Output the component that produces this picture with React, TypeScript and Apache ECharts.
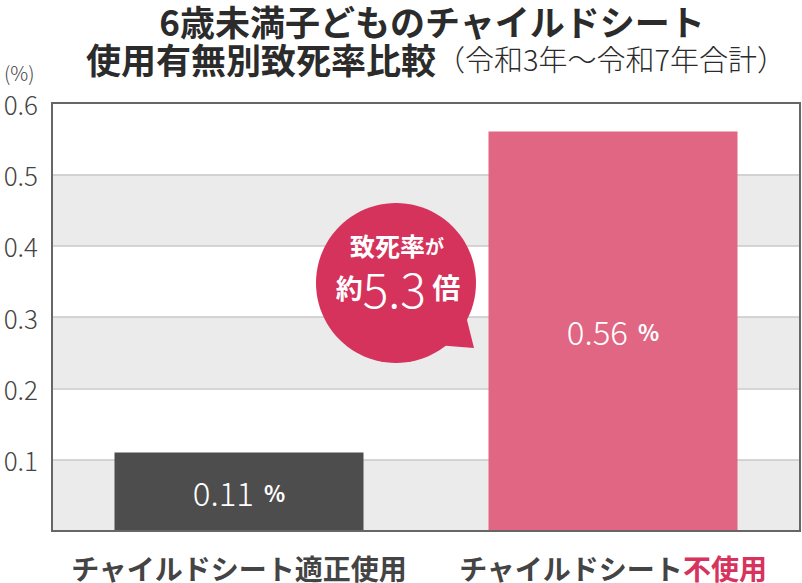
import React, { useRef, useEffect } from 'react';
import * as echarts from 'echarts';

const categories = ['チャイルドシート適正使用', 'チャイルドシート不使用'];
const fatalityRates = [0.11, 0.56];
const barColors = ['#4d4d4d', '#e06683'];
const ratioText = '5.3';

const FONT = '"Noto Sans CJK JP", "Noto Sans", sans-serif';
const BUBBLE = '#d5335c';

const App: React.FC = () => {
  const chartRef = useRef<HTMLDivElement>(null);

  useEffect(() => {
    if (!chartRef.current) return;
    const chart = echarts.init(chartRef.current, undefined, { renderer: 'svg' });

    const option: echarts.EChartsOption = {
      animation: false,
      textStyle: { fontFamily: FONT },
      grid: {
        left: 52,
        right: 2,
        top: 103,
        bottom: 52,
        show: true,
        borderColor: '#666',
        borderWidth: 2,
        z: 3,
      },
      xAxis: {
        type: 'category',
        data: categories,
        axisLine: { show: false },
        axisTick: { show: false },
        axisLabel: {
          interval: 0,
          margin: 22,
          fontSize: 28,
          lineHeight: 30,
          fontWeight: 'bold',
          color: '#444',
          fontFamily: FONT,
          formatter: (v: string) => v.replace('不使用', '{r|不使用}'),
          rich: {
            r: { fontSize: 28, lineHeight: 30, fontWeight: 'bold', color: '#d6335e', fontFamily: FONT },
          },
        },
      },
      yAxis: {
        type: 'value',
        min: 0,
        max: 0.6,
        interval: 0.1,
        axisLine: { show: false },
        axisTick: { show: false },
        axisLabel: {
          margin: 14,
          fontSize: 26,
          fontWeight: 300,
          color: '#444',
          fontFamily: FONT,
          formatter: (v: number) => (v === 0 ? '' : v.toFixed(1)),
        },
        splitLine: { lineStyle: { color: '#c8c8c8', width: 1.5 } },
        splitArea: { show: true, areaStyle: { color: ['#ebebeb', '#ffffff'] } },
      },
      series: [
        {
          type: 'bar',
          barWidth: 249,
          data: fatalityRates.map((v, i) => ({ value: v, itemStyle: { color: barColors[i] } })),
          label: {
            show: true,
            position: 'inside',
            formatter: (p: any) => `{v|${p.value}}{u|  %}`,
            rich: {
              v: { fontSize: 33, fontWeight: 300, color: '#fff', fontFamily: FONT },
              u: { fontSize: 22, fontWeight: 'bold', color: '#fff', fontFamily: FONT },
            },
          },
        },
      ],
      graphic: [
        {
          type: 'text',
          x: 432,
          y: 20,
          z: 100,
          style: {
            text: '6歳未満子どものチャイルドシート',
            align: 'center',
            verticalAlign: 'middle',
            fontSize: 35,
            lineHeight: 34,
            fontWeight: 'bold',
            fill: '#2b2b2b',
            fontFamily: FONT,
          },
        },
        {
          type: 'text',
          x: 436,
          y: 58,
          z: 100,
          style: {
            text: '{a|使用有無別致死率比較}{b|（令和3年～令和7年合計）}',
            align: 'center',
            verticalAlign: 'middle',
            fontFamily: FONT,
            rich: {
              a: { fontSize: 35, lineHeight: 34, fontWeight: 'bold', fill: '#2b2b2b', fontFamily: FONT },
              b: { fontSize: 29, lineHeight: 34, fontWeight: 300, fill: '#2b2b2b', fontFamily: FONT },
            },
          },
        },
        {
          type: 'text',
          x: 4,
          y: 72,
          z: 100,
          style: {
            text: '(%)',
            verticalAlign: 'middle',
            fontSize: 20,
            fontWeight: 300,
            fill: '#444',
            fontFamily: FONT,
          },
        },
        {
          type: 'circle',
          z: 100,
          shape: { cx: 396, cy: 283, r: 80 },
          style: { fill: BUBBLE },
        },
        {
          type: 'polygon',
          z: 100,
          shape: { points: [[462, 300], [474, 348], [436, 345]] },
          style: { fill: BUBBLE },
        },
        {
          type: 'text',
          z: 101,
          x: 397,
          y: 245,
          style: {
            text: '{a|致死率}{b|が}',
            align: 'center',
            verticalAlign: 'middle',
            rich: {
              a: { fontSize: 25, lineHeight: 26, fontWeight: 'bold', fill: '#fff', fontFamily: FONT },
              b: { fontSize: 19, lineHeight: 26, fontWeight: 'bold', fill: '#fff', fontFamily: FONT },
            },
          },
        },
        {
          type: 'text',
          z: 101,
          x: 398,
          y: 287,
          style: {
            text: `{a|約}{b|${ratioText}}{c| 倍}`,
            align: 'center',
            verticalAlign: 'middle',
            rich: {
              a: { fontSize: 27, lineHeight: 40, fontWeight: 'bold', fill: '#fff', fontFamily: FONT },
              b: { fontSize: 48, lineHeight: 40, fontWeight: 300, fill: '#fff', fontFamily: FONT },
              c: { fontSize: 28, lineHeight: 40, fontWeight: 'bold', fill: '#fff', fontFamily: FONT },
            },
          },
        },
      ],
    };

    chart.setOption(option);
    return () => {
      chart.dispose();
    };
  }, []);

  return (
    <div
      ref={chartRef}
      style={{ position: 'absolute', left: 0, top: 0, width: 802, height: 583 }}
    />
  );
};

export default App;
